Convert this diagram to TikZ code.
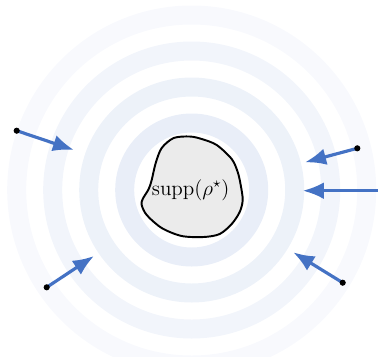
\documentclass[tikz,border=0pt]{standalone}
\usepackage{tikz}
\usetikzlibrary{arrows.meta}
\definecolor{pushblue}{RGB}{68,114,196}
\tikzset{
      ringband/.style={
        line width=0.38cm
      },
      pusharrow/.style={
        -{Latex[length=12pt,width=9.5pt]},
        line width=1.8pt,
        color=pushblue
      },
      taildot/.style={
        circle,
        fill=black,
        inner sep=0pt,
        minimum size=3.5pt
      }
    }

\begin{document}
\begin{tikzpicture}[x=0.02cm,y=0.02cm]
    \useasboundingbox (-191.7,-166) rectangle (186.3,190);
    \clip (-191.7,-166) rectangle (186.3,190);
    \draw[ringband, draw=pushblue!4] (0,0) circle (175);
    \draw[ringband, draw=pushblue!7] (0,0) circle (139);
    \draw[ringband, draw=pushblue!9.5] (0,0) circle (103);
    \draw[ringband, draw=pushblue!12] (0,0) circle (67);
    \draw[line width=1.1pt, fill=black!8] plot[smooth cycle, tension=0.5] coordinates {
      (-2,53.5) (-18,52) (-30,42) (-36,27) (-40,10) (-43,1) (-49,-9) (-50,-15)
      (-45,-25) (-30,-38) (-10,-46) (12,-47) (28,-44) (40,-34) (48,-22) (51,-10)
      (49,5) (46,18) (40,31) (25,45) (10,51)};
    \node[font=\large] (supp) at (-1,0) {$\mathrm{supp}(\rho^\star)$};
    \coordinate (t1) at (-175,59.3);   \coordinate (h1) at (-117.7,40);
    \coordinate (t2) at (-145,-97.3);  \coordinate (h2) at (-97.7,-66);
    \coordinate (t3) at (165.6,41.7);  \coordinate (h3) at (113.3,27.7);
    \coordinate (t4) at (190,-0.7);    \coordinate (h4) at (111,-0.7);
    \coordinate (t5) at (151,-92.7);   \coordinate (h5) at (101.6,-62.3);
    \draw[pusharrow] (t1) -- (h1);
    \draw[pusharrow] (t2) -- (h2);
    \draw[pusharrow] (t3) -- (h3);
    \draw[pusharrow] (t4) -- (h4);
    \draw[pusharrow] (t5) -- (h5);
    \node[taildot] (d1) at (t1) {};
    \node[taildot] (d2) at (t2) {};
    \node[taildot] (d3) at (t3) {};
    \node[taildot] (d5) at (t5) {};
    \end{tikzpicture}
\end{document}
